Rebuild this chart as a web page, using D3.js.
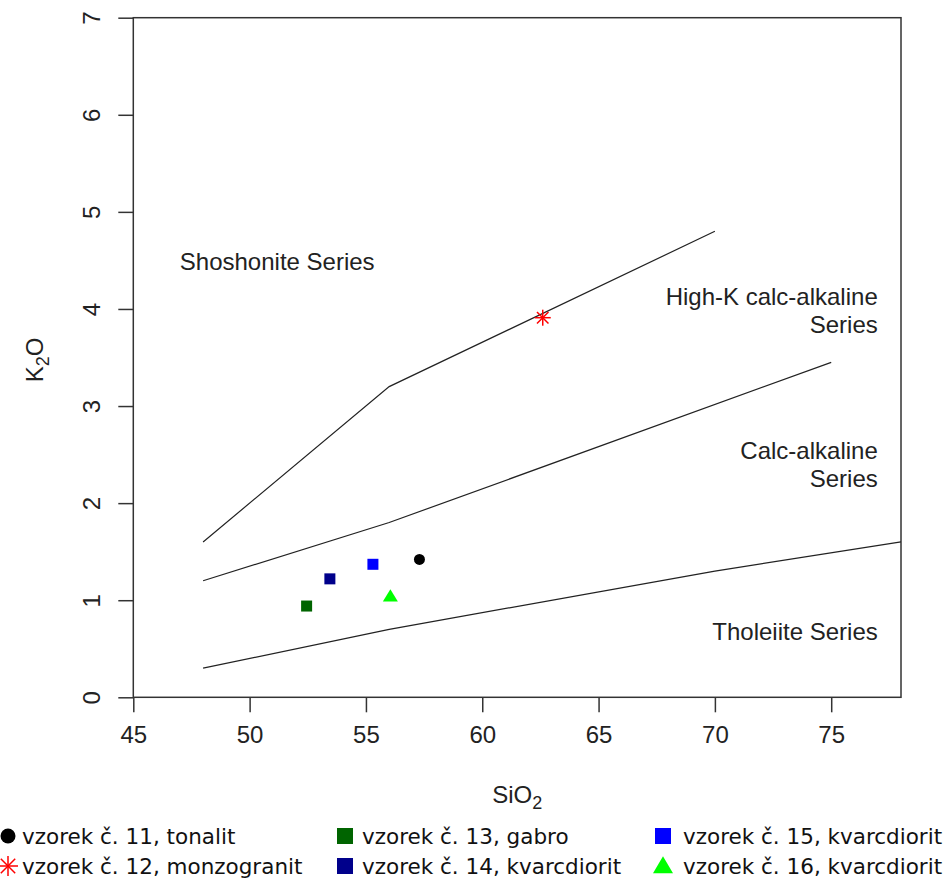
<!DOCTYPE html>
<html lang="en">
<head>
    <meta charset="UTF-8">
    <title>K2O vs SiO2</title>
    <script src="https://d3js.org/d3.v7.min.js"></script>
    <style>
        body { margin: 0; background: #fff; }
        svg { display: block; }
    </style>
</head>
<body>
    <div id="chart"></div>
    <script>
        // samples
        const samples = ["vzorek č. 11, tonalit", "vzorek č. 12, monzogranit", "vzorek č. 13, gabro",
            "vzorek č. 14, kvarcdiorit", "vzorek č. 15, kvarcdiorit", "vzorek č. 16, kvarcdiorit"];
        const sio2 = [57.3, 62.6, 52.45, 53.45, 55.3, 56.05];
        const k2o = [1.42, 3.91, 0.94, 1.22, 1.37, 1.04];
        const colors = ["#000000", "#ff0000", "#006400", "#00008b", "#0000ff", "#00ff00"];
        const shapes = ["circle", "asterisk", "square", "square", "square", "triangle"];

        // series boundaries (SiO2, K2O)
        const shoshoniteLine = [[48, 1.6], [56, 3.2], [70, 4.8]];
        const highKLine = [[48, 1.2], [56, 1.8], [75, 3.45]];
        const tholeiiteLine = [[48, 0.3], [56, 0.7], [70, 1.3], [78, 1.6]];

        // field labels: text lines, x, y
        const fieldLabels = [
            { lines: ["Shoshonite Series"], x: 47, y: 4.4, anchor: "start" },
            { lines: ["High-K calc-alkaline", "Series"], x: 77, y: 4.04, anchor: "end" },
            { lines: ["Calc-alkaline", "Series"], x: 77, y: 2.45, anchor: "end" },
            { lines: ["Tholeiite Series"], x: 77, y: 0.59, anchor: "end" }
        ];

        const xTicks = [45, 50, 55, 60, 65, 70, 75];
        const yTicks = [0, 1, 2, 3, 4, 5, 6, 7];

        const width = 951, height = 881;
        const plot = { left: 133.3, right: 901, top: 17.7, bottom: 697.3 };
        const font = "'Liberation Sans', Arial, sans-serif";
        const axisColor = "#333";

        const svg = d3.select("#chart").append("svg")
            .attr("width", width)
            .attr("height", height);

        const x = d3.scaleLinear().domain([45, 78]).range([plot.left, plot.right]);
        const y = d3.scaleLinear().domain([0, 7]).range([plot.bottom, plot.top]);

        // x axis
        const xAxis = svg.append("g")
            .attr("transform", "translate(0," + plot.bottom + ")")
            .call(d3.axisBottom(x).tickValues(xTicks).tickFormat(d3.format("d"))
                .tickSize(15).tickSizeOuter(0).tickPadding(14));
        xAxis.select(".domain").remove();
        xAxis.selectAll("line").attr("stroke", axisColor).attr("stroke-width", 1.5);
        xAxis.selectAll("text").attr("font-family", font).attr("font-size", 24).attr("fill", "#222");

        // y axis, labels rotated like R
        const yAxis = svg.append("g")
            .attr("transform", "translate(" + plot.left + ",0)")
            .call(d3.axisLeft(y).tickValues(yTicks).tickFormat(d3.format("d"))
                .tickSize(15).tickSizeOuter(0));
        yAxis.select(".domain").remove();
        yAxis.selectAll("line").attr("stroke", axisColor).attr("stroke-width", 1.5);
        yAxis.selectAll("text")
            .attr("x", null).attr("dy", null)
            .attr("text-anchor", "middle")
            .attr("transform", "translate(-33,0) rotate(-90)")
            .attr("font-family", font).attr("font-size", 24).attr("fill", "#222");

        // box
        svg.append("rect")
            .attr("x", plot.left).attr("y", plot.top)
            .attr("width", plot.right - plot.left).attr("height", plot.bottom - plot.top)
            .attr("fill", "none").attr("stroke", axisColor).attr("stroke-width", 1.5);

        // axis titles
        const xTitle = svg.append("text")
            .attr("x", (plot.left + plot.right) / 2).attr("y", 803)
            .attr("text-anchor", "middle")
            .attr("font-family", font).attr("font-size", 24).attr("fill", "#222");
        xTitle.append("tspan").text("SiO");
        xTitle.append("tspan").attr("dy", 6).attr("font-size", 18).text("2");

        const yTitle = svg.append("text")
            .attr("transform", "translate(43," + 360 + ") rotate(-90)")
            .attr("text-anchor", "middle")
            .attr("font-family", font).attr("font-size", 24).attr("fill", "#222");
        yTitle.append("tspan").text("K");
        yTitle.append("tspan").attr("dy", 6).attr("font-size", 18).text("2");
        yTitle.append("tspan").attr("dy", -6).text("O");

        // boundary lines
        const line = d3.line().x(d => x(d[0])).y(d => y(d[1]));
        [shoshoniteLine, highKLine, tholeiiteLine].forEach(l => {
            svg.append("path")
                .attr("d", line(l))
                .attr("fill", "none")
                .attr("stroke", "#222")
                .attr("stroke-width", 1.2);
        });

        // field labels
        fieldLabels.forEach(f => {
            const t = svg.append("text")
                .attr("text-anchor", f.anchor)
                .attr("font-family", font).attr("font-size", 24).attr("fill", "#222");
            f.lines.forEach((s, i) => {
                t.append("tspan")
                    .attr("x", x(f.x))
                    .attr("y", y(f.y) + i * 28)
                    .text(s);
            });
        });

        // draw a symbol centred at cx, cy
        function drawSymbol(g, shape, cx, cy, size, color) {
            if (shape === "circle") {
                g.append("circle").attr("cx", cx).attr("cy", cy).attr("r", size / 2).attr("fill", color);
            } else if (shape === "square") {
                g.append("rect").attr("x", cx - size / 2).attr("y", cy - size / 2)
                    .attr("width", size).attr("height", size).attr("fill", color);
            } else if (shape === "triangle") {
                const h = size * 0.9;
                g.append("path")
                    .attr("d", "M" + cx + "," + (cy - h * 0.6) + "L" + (cx + size / 2 + 1) + "," + (cy + h * 0.45) +
                        "L" + (cx - size / 2 - 1) + "," + (cy + h * 0.45) + "Z")
                    .attr("fill", color);
            } else if (shape === "asterisk") {
                const r = size / 2, d = r * 0.72;
                const segs = [[-r, 0, r, 0], [0, -r, 0, r], [-d, -d, d, d], [-d, d, d, -d]];
                segs.forEach(s => {
                    g.append("line")
                        .attr("x1", cx + s[0]).attr("y1", cy + s[1])
                        .attr("x2", cx + s[2]).attr("y2", cy + s[3])
                        .attr("stroke", color).attr("stroke-width", 1.5);
                });
            }
        }

        // points
        const pts = svg.append("g");
        const plotSizes = { circle: 11, square: 11, triangle: 13, asterisk: 16 };
        samples.forEach((s, i) => {
            drawSymbol(pts, shapes[i], x(sio2[i]), y(k2o[i]), plotSizes[shapes[i]], colors[i]);
        });

        // legend: 3 columns x 2 rows, filled column-wise
        const legendCols = [{ sym: 8, text: 22 }, { sym: 345, text: 362 }, { sym: 663, text: 683 }];
        const legendRows = [836, 866];
        const legendSizes = { circle: 15, square: 16, triangle: 18, asterisk: 20 };
        const legend = svg.append("g");
        samples.forEach((s, i) => {
            const col = legendCols[Math.floor(i / 2)];
            const cy = legendRows[i % 2];
            drawSymbol(legend, shapes[i], col.sym, cy, legendSizes[shapes[i]], colors[i]);
            legend.append("text")
                .attr("x", col.text).attr("y", cy + 8)
                .attr("font-family", "'DejaVu Sans', sans-serif")
                .attr("font-size", 21.5)
                .attr("fill", "#111")
                .text(s);
        });
    </script>
</body>
</html>
